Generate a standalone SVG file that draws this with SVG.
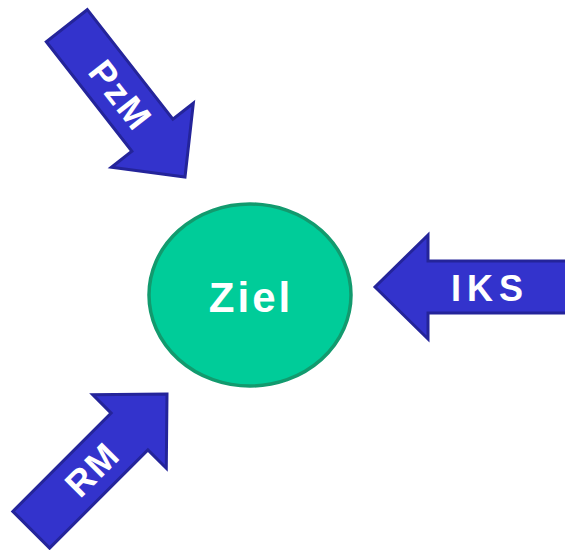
<svg xmlns="http://www.w3.org/2000/svg" width="565" height="550" viewBox="0 0 565 550">
<style>
.arrow{fill:#3333CC;stroke:#24249A;stroke-width:3;stroke-linejoin:miter}
.lbl{font-family:"Liberation Sans",Arial,sans-serif;font-weight:bold;fill:#FFFFFF;text-anchor:middle}
</style>
<defs>
<polygon id="arr" points="0,0 -53,-52 -53,-26 -192,-26 -192,26 -53,26 -53,52"/>
</defs>
<rect width="565" height="550" fill="#FFFFFF"/>
<g id="connectors">
<g id="PzM" transform="translate(185,177) rotate(52)">
<use href="#arr" class="arrow"/>
<text class="lbl" x="-104" y="13" font-size="36" letter-spacing="2">PzM</text>
</g>
<g id="IKS" transform="translate(375,287) rotate(180)">
<use href="#arr" class="arrow"/>
</g>
<text class="lbl" x="490" y="301" font-size="36" letter-spacing="6">IKS</text>
<g id="RM" transform="translate(167,394) rotate(-45)">
<use href="#arr" class="arrow"/>
<text class="lbl" x="-106" y="13" font-size="36" letter-spacing="2">RM</text>
</g>
</g>
<g id="Ziel">
<ellipse cx="250" cy="295" rx="101" ry="91" fill="#00CC99" stroke="#129A6E" stroke-width="3.5"/>
<text class="lbl" x="251" y="312" font-size="42" letter-spacing="3">Ziel</text>
</g>
</svg>
